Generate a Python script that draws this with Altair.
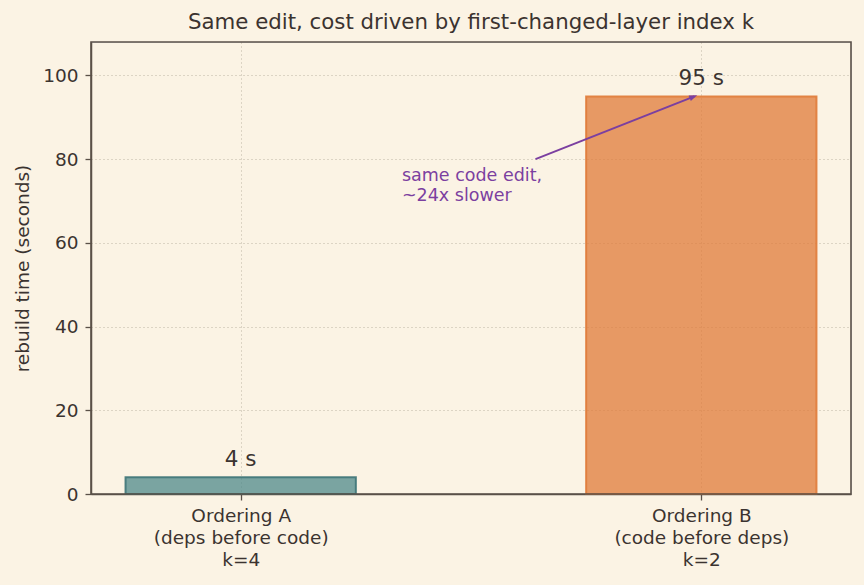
import altair as alt
import pandas as pd
import json

# ---- data ----
positions = [0, 1]
labels = ["Ordering A|(deps before code)|k=4", "Ordering B|(code before deps)|k=2"]
times = [4, 95]
value_text = ["4 s", "95 s"]
fills = ["#4F8A8B", "#E07B39"]
strokes = ["#3E7678", "#E07B39"]
bar_half_width = 0.25

arrow_x = [0.64, 0.985]
arrow_y = [80, 95]
note_lines = ["same code edit,", "~24x slower"]
note_x = 0.35
note_y = 76

BG = "#FBF3E4"
INK = "#3B3330"
SPINE = "#5A5048"
GRID = "#BDB4A4"
PURPLE = "#7B3FA0"

W, H = 760, 452

df = pd.DataFrame({
    "pos": positions,
    "x0": [p - bar_half_width for p in positions],
    "x1": [p + bar_half_width for p in positions],
    "t": times,
    "vt": value_text,
    "fill": fills,
    "stroke": strokes,
})

xscale = alt.Scale(domain=[-0.325, 1.325], nice=False, zero=False)
yscale = alt.Scale(domain=[0, 108], nice=False)

label_expr = "split(" + json.dumps(labels).replace('"', "'") + "[datum.value], '|')"

base = alt.Chart(df)

bars = base.mark_rect(fillOpacity=0.75, strokeWidth=2, strokeOpacity=0.9).encode(
    x=alt.X("x0:Q", scale=xscale, axis=alt.Axis(
        values=positions, labelExpr=label_expr, title=None,
        grid=True, gridDash=[1, 3], gridColor=GRID, gridWidth=1,
        labelLineHeight=22, labelFontSize=18.5, labelPadding=6,
        tickSize=6, tickColor=SPINE, tickWidth=1.3,
        domainColor=SPINE, domainWidth=1.5, labelColor=INK)),
    x2="x1:Q",
    y=alt.Y("t:Q", scale=yscale, axis=alt.Axis(
        values=[0, 20, 40, 60, 80, 100], title="rebuild time (seconds)",
        grid=True, gridDash=[1, 3], gridColor=GRID, gridWidth=1,
        labelFontSize=18.5, labelColor=INK, labelPadding=7, tickSize=6, tickColor=SPINE, tickWidth=1.3,
        domainColor=SPINE, domainWidth=1.5, titleFontSize=18.5, titleColor=INK,
        titleFontWeight="normal", titleX=-69, titleY=226, titleAlign="center",
        titleBaseline="middle", titleAngle=270)),
    y2=alt.datum(0),
    fill=alt.Fill("fill:N", scale=None),
    stroke=alt.Stroke("stroke:N", scale=None),
)

vals = base.mark_text(fontSize=21.5, color=INK, baseline="bottom", dy=-6).encode(
    x=alt.X("pos:Q", scale=xscale), y=alt.Y("t:Q", scale=yscale), text="vt:N")

adf = pd.DataFrame({"x": arrow_x, "y": arrow_y, "o": [0, 1]})
arrow_line = alt.Chart(adf).mark_line(color=PURPLE, strokeWidth=2).encode(
    x=alt.X("x:Q", scale=xscale), y=alt.Y("y:Q", scale=yscale), order="o:Q")

head_df = pd.DataFrame({"x": [arrow_x[1]], "y": [arrow_y[1]]})
arrow_head = alt.Chart(head_df).mark_point(
    shape="M-1,-0.6 L0.6,0 L-1,0.6 Z", filled=True, color=PURPLE, opacity=1,
    size=100, angle=338.8).encode(
    x=alt.X("x:Q", scale=xscale), y=alt.Y("y:Q", scale=yscale))

note_df = pd.DataFrame({"x": [note_x], "y": [note_y], "txt": ["\n".join(note_lines)]})
note = alt.Chart(note_df).mark_text(
    align="left", baseline="middle", fontSize=17.5, color=PURPLE, lineBreak="\n",
    lineHeight=20.5).encode(
    x=alt.X("x:Q", scale=xscale), y=alt.Y("y:Q", scale=yscale), text="txt:N")

frame = alt.Chart(pd.DataFrame({"a": [0]})).mark_rect(
    filled=False, stroke=SPINE, strokeWidth=1.6).encode(
    x=alt.value(0), x2=alt.value(W), y=alt.value(0), y2=alt.value(H))

chart = alt.layer(bars, vals, arrow_line, arrow_head, note, frame).properties(
    width=W, height=H,
    title=alt.TitleParams("Same edit, cost driven by first-changed-layer index k",
                          fontSize=21.3, fontWeight="normal", color=INK, offset=8,
                          anchor="middle"),
    background=BG,
    padding={"left": 91, "top": 42, "right": 13, "bottom": 91},
    autosize=alt.AutoSizeParams(type="none"),
).configure_view(stroke=SPINE, strokeWidth=1.5, fill=BG).configure(
    font="DejaVu Sans")

chart.save("out.html", embed_options={"renderer": "svg", "actions": False})
